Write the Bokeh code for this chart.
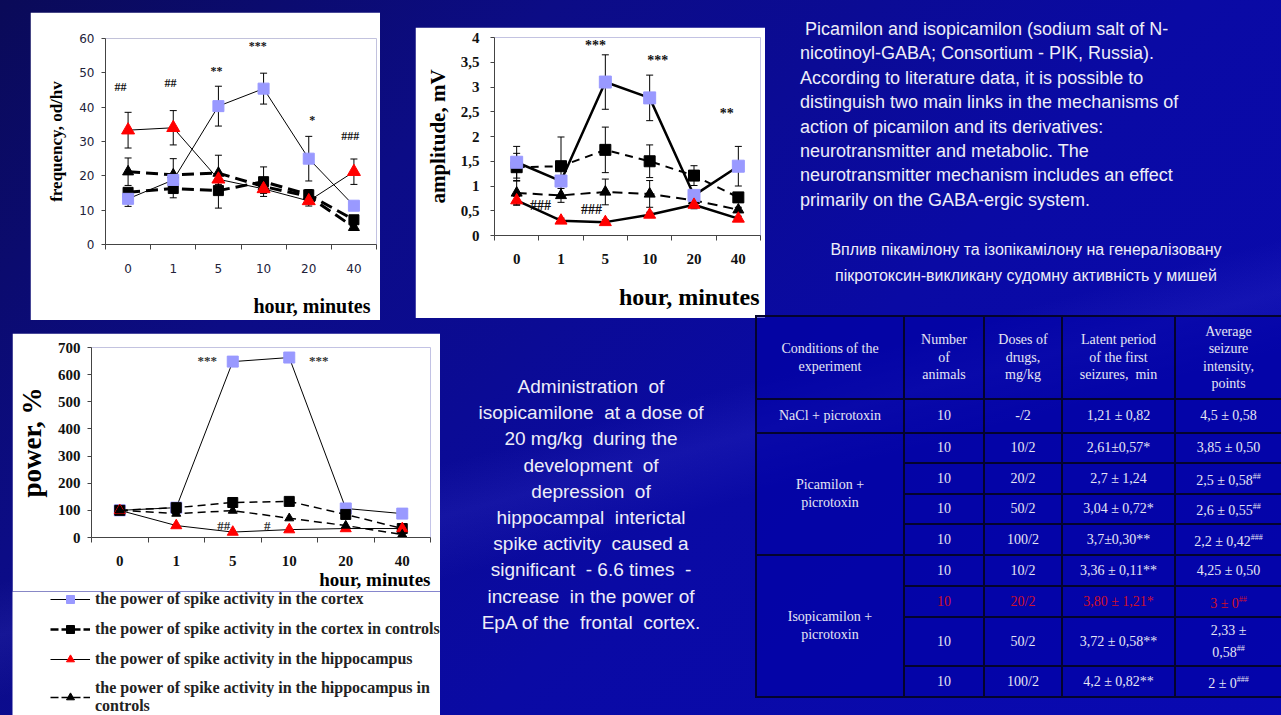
from bokeh.plotting import figure
from bokeh.models import (Range1d, FixedTicker, Whisker, TeeHead, ColumnDataSource,
                          Legend, LegendItem, Title, Div, Spacer, CustomJSTickFormatter)
from bokeh.layouts import row, column
from bokeh.embed import file_html
from bokeh.resources import INLINE
from bokeh.core.properties import value

SERIF = "Liberation Serif"
SANS = "Liberation Sans"

# ---------------- data ----------------
times = ["0", "1", "5", "10", "20", "40"]

# chart 1: frequency, od/hv
freq_cortex = [13.3, 18.8, 40.3, 45.4, 25.0, 11.3]
freq_cortex_err = [2.2, 0.0, 5.8, 4.5, 6.5, 0.0]
freq_cortex_ctrl = [15.2, 16.3, 15.7, 18.3, 14.5, 7.2]
freq_cortex_ctrl_err = [0.0, 2.7, 5.1, 4.3, 1.5, 0.0]
freq_hippo = [33.3, 34.0, 19.0, 16.2, 12.7, 21.2]
freq_hippo_err = [5.2, 5.0, 1.5, 1.2, 1.5, 3.7]
freq_hippo_ctrl = [21.2, 20.3, 20.8, 16.9, 14.0, 5.0]
freq_hippo_ctrl_err = [4.0, 4.7, 5.2, 2.0, 2.0, 0.8]
freq_marks = ["##", "##", "**", "***", "*", "###"]
freq_marks_x = [-0.17, 0.94, 1.96, 2.87, 4.08, 4.92]
freq_marks_y = [45.8, 47.0, 50.4, 57.7, 36.2, 31.6]

# chart 2: amplitude, mV
amp_cortex = [1.48, 1.10, 3.10, 2.78, 0.81, 1.40]
amp_cortex_err = [0.32, 0.0, 0.55, 0.46, 0.0, 0.40]
amp_cortex_ctrl = [1.38, 1.40, 1.73, 1.50, 1.21, 0.77]
amp_cortex_ctrl_err = [0.28, 0.59, 0.46, 0.33, 0.20, 0.08]
amp_hippo = [0.71, 0.30, 0.27, 0.42, 0.62, 0.34]
amp_hippo_err = [0.08, 0.05, 0.05, 0.05, 0.08, 0.05]
amp_hippo_ctrl = [0.86, 0.81, 0.88, 0.84, 0.71, 0.52]
amp_hippo_ctrl_err = [0.25, 0.14, 0.26, 0.27, 0.12, 0.05]
amp_marks = ["###", "###", "***", "***", "**"]
amp_marks_x = [0.54, 1.69, 1.78, 3.18, 4.74]
amp_marks_y = [0.60, 0.53, 3.84, 3.53, 2.46]

# chart 3: power, %
pow_cortex = [100, 110, 648, 663, 107, 88]
pow_cortex_ctrl = [100, 110, 129, 133, 85, 33]
pow_hippo = [100, 44, 20, 29, 33, 33]
pow_hippo_ctrl = [100, 88, 99, 71, 44, 11]
pow_marks = ["***", "***", "##", "#"]
pow_marks_x = [1.55, 3.52, 1.84, 2.61]
pow_marks_y = [652, 652, 44, 44]

legend_labels = [
    "the power of spike activity in the cortex",
    "the power of spike activity in the cortex in controls",
    "the power of spike activity in the hippocampus",
    "the power of spike activity in the hippocampus in\ncontrols",
]

intro_lines = [
    "\u00a0Picamilon and isopicamilon (sodium salt of N-",
    "nicotinoyl-GABA; Consortium - PIK, Russia).",
    "According to literature data, it is possible to",
    "distinguish two main links in the mechanisms of",
    "action of picamilon and its derivatives:",
    "neurotransmitter and metabolic. The",
    "neurotransmitter mechanism includes an effect",
    "primarily on the GABA-ergic system.",
]
ua_lines = [
    "Вплив пікамілону та ізопікамілону на генералізовану",
    "пікротоксин-викликану судомну активність у мишей",
]
admin_lines = [
    "Administration&nbsp; of",
    "isopicamilone&nbsp; at a dose of",
    "20 mg/kg&nbsp; during the",
    "development&nbsp; of",
    "depression&nbsp; of",
    "hippocampal&nbsp; interictal",
    "spike activity&nbsp; caused a",
    "significant&nbsp; - 6.6 times&nbsp; -",
    "increase&nbsp; in the power of",
    "EpA of the&nbsp; frontal&nbsp; cortex.",
]

tbl_header = ["Conditions of the\nexperiment", "Number\nof\nanimals", "Doses of\ndrugs,\nmg/kg",
              "Latent period\nof the first\nseizures,\u00a0 min", "Average\nseizure\nintensity,\npoints"]
tbl_groups = ["NaCl + picrotoxin", "Picamilon +\npicrotoxin", "Isopicamilon +\npicrotoxin"]
tbl_group_rows = [1, 4, 4]
tbl_animals = ["10", "10", "10", "10", "10", "10", "10", "10", "10"]
tbl_doses = ["-/2", "10/2", "20/2", "50/2", "100/2", "10/2", "20/2", "50/2", "100/2"]
tbl_latent = ["1,21 ± 0,82", "2,61±0,57*", "2,7 ± 1,24", "3,04 ± 0,72*", "3,7±0,30**",
              "3,36 ± 0,11**", "3,80 ± 1,21*", "3,72 ± 0,58**", "4,2 ± 0,82**"]
tbl_intensity = ["4,5 ± 0,58", "3,85 ± 0,50", "2,5 ± 0,58", "2,6 ± 0,55", "2,2 ± 0,42",
                 "4,25 ± 0,50", "3 ± 0", "2,33 ±\n0,58", "2 ± 0"]
tbl_intensity_sup = ["", "", "##", "##", "###", "", "##", "##", "###"]
tbl_highlight = 6

LIGHT = "#9999ff"
RED = "#ff0000"


# ---------------- helpers ----------------
def make_fig(w, h, bl, br, bt, bb, ymax, yticks):
    p = figure(width=w, height=h, x_range=Range1d(-0.5, len(times) - 0.5), y_range=Range1d(0, ymax),
               output_backend="svg", toolbar_location=None,
               min_border_left=bl, min_border_right=br, min_border_top=bt, min_border_bottom=bb,
               outline_line_color=None, background_fill_color="white", border_fill_color="white")
    p.grid.visible = False
    xa = p.xaxis[0]
    xa.ticker = FixedTicker(ticks=list(range(len(times))),
                            minor_ticks=[i - 0.5 for i in range(len(times) + 1)])
    xa.major_label_overrides = {i: t for i, t in enumerate(times)}
    xa.major_tick_in = 0
    xa.major_tick_out = 0
    xa.minor_tick_in = 0
    xa.minor_tick_out = 5
    xa.axis_line_color = "#444444"
    xa.minor_tick_line_color = "#444444"
    ya = p.yaxis[0]
    ya.ticker = FixedTicker(ticks=yticks)
    ya.major_tick_in = 0
    ya.major_tick_out = 4
    ya.minor_tick_line_color = None
    ya.axis_line_color = "#444444"
    ya.major_tick_line_color = "#444444"
    return p


def add_series(p, y, err, fill, marker, size, lw, dash, visible=True):
    x = list(range(len(y)))
    r_line = p.line(x, y, line_color="black", line_width=lw, line_dash=dash, visible=visible)
    if err:
        ex = [i for i, e in enumerate(err) if e > 0]
        src = ColumnDataSource(dict(x=ex, lo=[y[i] - err[i] for i in ex], hi=[y[i] + err[i] for i in ex]))
        p.add_layout(Whisker(source=src, base="x", lower="lo", upper="hi", line_color="black",
                             line_width=1,
                             upper_head=TeeHead(size=7, line_color="black", line_width=1),
                             lower_head=TeeHead(size=7, line_color="black", line_width=1)))
    r_mark = p.scatter(x, y, marker=marker, size=size, fill_color=fill, line_color=fill, visible=visible)
    return r_line, r_mark


def style_axis_labels(p, font, size, style, color, ystand, xstand):
    for a in (p.xaxis[0], p.yaxis[0]):
        a.major_label_text_font = font
        a.major_label_text_font_size = size
        a.major_label_text_font_style = style
        a.major_label_text_color = color
    p.yaxis[0].major_label_standoff = ystand
    p.xaxis[0].major_label_standoff = xstand


def set_ylabel(p, text, size, standoff):
    ya = p.yaxis[0]
    ya.axis_label = text
    ya.axis_label_text_font = SERIF
    ya.axis_label_text_font_style = "bold"
    ya.axis_label_text_font_size = size
    ya.axis_label_text_color = "black"
    ya.axis_label_standoff = standoff


def add_xtitle(p, size, standoff, offset=0, gap=0):
    if gap:
        # empty spacer label under the tick labels to push the title down
        xa = p.xaxis[0]
        xa.axis_label = " "
        xa.axis_label_text_font_size = "8px"
        xa.axis_label_standoff = gap
    p.add_layout(Title(text="hour, minutes", align="right", vertical_align="top", offset=offset,
                       standoff=standoff, text_font=SERIF, text_font_style="bold",
                       text_font_size=size, text_color="black"), "below")


# ---------------- chart 1 ----------------
p1 = make_fig(350, 308, 75, 4, 26, 75, 60, [0, 10, 20, 30, 40, 50, 60])
add_series(p1, freq_cortex_ctrl, freq_cortex_ctrl_err, "black", "square", 10, 3, "12 6")
add_series(p1, freq_hippo_ctrl, freq_hippo_ctrl_err, "black", "triangle", 11, 3, "12 6")
add_series(p1, freq_cortex, freq_cortex_err, LIGHT, "square", 11, 1, "solid")
add_series(p1, freq_hippo, freq_hippo_err, RED, "triangle", 13, 1, "solid")
p1.text(freq_marks_x, freq_marks_y, text=freq_marks, text_font=value(SERIF), text_font_size="12px",
        text_font_style="bold", text_align="center", text_baseline="middle", text_color="#111111")
style_axis_labels(p1, "DejaVu Sans", "12px", "normal", "#22223a", 7, 14)
set_ylabel(p1, "frequency, od/hv", "17px", 10)
add_xtitle(p1, "20px", 4, 6, gap=5)

# ---------------- chart 2 ----------------
p2 = make_fig(350, 291, 79, 5, 10, 83, 4, [0, 0.5, 1, 1.5, 2, 2.5, 3, 3.5, 4])
add_series(p2, amp_cortex_ctrl, amp_cortex_ctrl_err, "black", "square", 11, 2, "8 6")
add_series(p2, amp_hippo_ctrl, amp_hippo_ctrl_err, "black", "triangle", 11, 2, "10 6")
add_series(p2, amp_cortex, amp_cortex_err, LIGHT, "square", 12, 2.5, "solid")
add_series(p2, amp_hippo, amp_hippo_err, RED, "triangle", 12, 2.5, "solid")
p2.text(amp_marks_x, amp_marks_y, text=amp_marks, text_font=value(SERIF), text_font_size="14px",
        text_font_style="bold", text_align="center", text_baseline="middle", text_color="#111111")
p2.yaxis[0].formatter = CustomJSTickFormatter(code="return tick.toString().replace('.', ',');")
style_axis_labels(p2, SERIF, "15px", "bold", "#111111", 11, 13)
set_ylabel(p2, "amplitude, mV", "21px", 8)
add_xtitle(p2, "24px", 4, 1, gap=3)

# ---------------- chart 3 ----------------
p3 = make_fig(428, 258, 79, 10, 14, 54, 700, [0, 100, 200, 300, 400, 500, 600, 700])
add_series(p3, pow_cortex, None, LIGHT, "square", 11, 1, "solid")
add_series(p3, pow_cortex_ctrl, None, "black", "square", 10, 1.5, "8 5")
add_series(p3, pow_hippo, None, RED, "triangle", 11, 1, "solid")
add_series(p3, pow_hippo_ctrl, None, "black", "triangle", 9, 1.5, "8 5")
p3.text(pow_marks_x, pow_marks_y, text=pow_marks, text_font=value(SERIF), text_font_size="13px",
        text_font_style="bold", text_align="center", text_baseline="middle", text_color="#333333")
style_axis_labels(p3, SERIF, "15px", "bold", "#111111", 7, 13)
set_ylabel(p3, "power, %", "27px", 8)
add_xtitle(p3, "19px", 0)

# legend panel under chart 3 (hidden copies of the same series supply the legend glyphs)
pl = figure(width=428, height=124, x_range=Range1d(0, 1), y_range=Range1d(0, 1),
            output_backend="svg", toolbar_location=None, x_axis_location=None, y_axis_location=None,
            min_border=0, min_border_left=0, min_border_right=0, min_border_top=0, min_border_bottom=0,
            outline_line_color=None, background_fill_color="white", border_fill_color="white")
pl.grid.visible = False
l1, m1 = add_series(pl, pow_cortex, None, LIGHT, "square", 11, 1, "solid", visible=False)
l2, m2 = add_series(pl, pow_cortex_ctrl, None, "black", "square", 10, 2.5, "8 3", visible=False)
l3, m3 = add_series(pl, pow_hippo, None, RED, "triangle", 11, 1, "solid", visible=False)
l4, m4 = add_series(pl, pow_hippo_ctrl, None, "black", "triangle", 9, 1.5, "8 3", visible=False)
leg = Legend(items=[LegendItem(label=legend_labels[0], renderers=[l1, m1]),
                    LegendItem(label=legend_labels[1], renderers=[l2, m2]),
                    LegendItem(label=legend_labels[2], renderers=[l3, m3]),
                    LegendItem(label=legend_labels[3], renderers=[l4, m4])],
             location=(38, 0), orientation="vertical", glyph_width=40, glyph_height=20,
             label_height=20, spacing=10, padding=0, margin=0, border_line_color=None,
             background_fill_alpha=0, inactive_fill_alpha=0, label_text_font=SERIF,
             label_text_font_style="bold", label_text_font_size="16px", label_text_line_height=1.0,
             label_text_color="#222222", label_standoff=5, click_policy="none")
pl.add_layout(leg, "center")

# ---------------- texts ----------------
intro_html = (
    "<div style=\"font-family:'Liberation Sans',Arial,sans-serif;color:#eeeef8;white-space:nowrap;\">"
    "<div style=\"padding-top:17px;padding-left:5px;font-size:18px;line-height:24.4px;\">"
    + "<br>".join(intro_lines) +
    "</div>"
    "<div style=\"margin-top:25px;width:462px;text-align:center;font-size:16px;line-height:26px;\">"
    + "<br>".join(ua_lines) +
    "</div></div>"
)
top_text = Div(text=intro_html, width=486, height=320, margin=0)

admin_html = (
    "<div style=\"font-family:'Liberation Sans',Arial,sans-serif;color:#eeeef8;white-space:nowrap;"
    "padding-top:54px;width:302px;text-align:center;font-size:19px;line-height:26.2px;\">"
    + "<br>".join(admin_lines) + "</div>"
)
mid_text = Div(text=admin_html, width=315, height=395, margin=0)

# ---------------- table ----------------
col_w = [148, 80, 78, 113, 107]
row_h = [34, 30, 31, 30, 31, 31, 31, 49, 31]
cell = ("border:2px solid #04042e;text-align:center;vertical-align:middle;padding:0 2px;"
        "background:rgba(0,0,165,0.55);")
html = ["<table style=\"border-collapse:collapse;table-layout:fixed;width:526px;margin-top:-5px;"
        "font-family:'Liberation Serif','Times New Roman',serif;color:#e6e6f4;font-size:14px;\">"]
html.append("<colgroup>" + "".join(f"<col style=\"width:{w}px\">" for w in col_w) + "</colgroup>")
html.append("<tr style=\"height:83px;line-height:17.5px;font-size:14px;\">" +
            "".join(f"<td style=\"{cell}\">{h.replace(chr(10), '<br>')}</td>" for h in tbl_header) + "</tr>")
r = 0
for g, n in zip(tbl_groups, tbl_group_rows):
    for k in range(n):
        color = "color:#d0102a;" if r == tbl_highlight else ""
        tr = f"<tr style=\"height:{row_h[r]}px;line-height:18px;{color}\">"
        if k == 0:
            tr += f"<td rowspan=\"{n}\" style=\"{cell}color:#e6e6f4;\">{g.replace(chr(10), '<br>')}</td>"
        sup = tbl_intensity_sup[r]
        sup_html = f"<sup style=\"font-size:8px;\">{sup}</sup>" if sup else ""
        tr += (f"<td style=\"{cell}\">{tbl_animals[r]}</td>"
               f"<td style=\"{cell}\">{tbl_doses[r]}</td>"
               f"<td style=\"{cell}\">{tbl_latent[r]}</td>"
               f"<td style=\"{cell}\">{tbl_intensity[r].replace(chr(10), '<br>')}{sup_html}</td>")
        tr += "</tr>"
        html.append(tr)
        r += 1
html.append("</table>")
table_div = Div(text="".join(html), width=526, height=395, margin=0)

# ---------------- layout ----------------
top = row(Spacer(width=30, height=320),
          column(Spacer(width=350, height=12), p1),
          Spacer(width=35, height=320),
          column(Spacer(width=350, height=27), p2),
          Spacer(width=30, height=320),
          top_text)
chart3_col = column(Spacer(width=428, height=13), p3, row(pl))
bottom = row(Spacer(width=12, height=395),
             chart3_col,
             mid_text,
             table_div)
bg = ("linear-gradient(165deg, rgba(255,255,255,0) 55%, rgba(110,110,255,0.10) 60%, rgba(255,255,255,0) 66%), "
      "linear-gradient(135deg, #0a0a58 0%, #0c0c86 28%, #0a0aa4 60%, #0909b2 100%)")
layout = column(top, bottom, styles={"background": bg})

open("out.html", "w").write(file_html(layout, INLINE))
